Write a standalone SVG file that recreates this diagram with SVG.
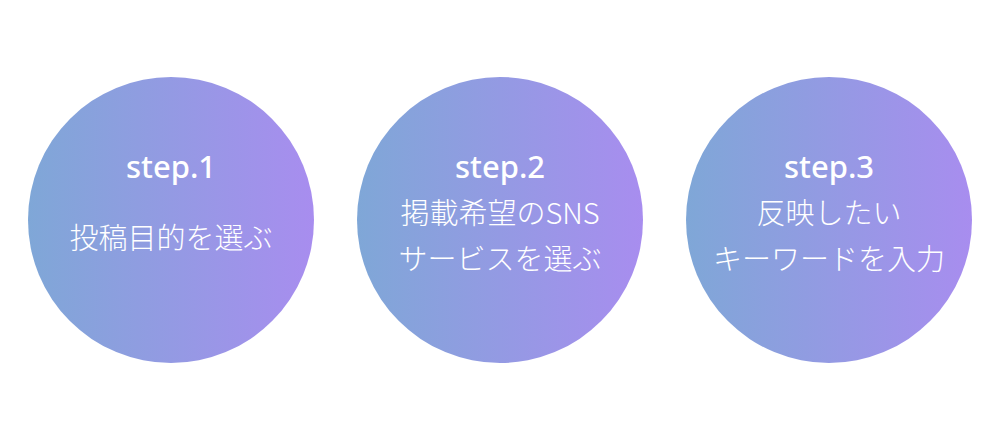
<svg xmlns="http://www.w3.org/2000/svg" width="1000" height="439" viewBox="0 0 1000 439">
<style>
.step{font-family:"Noto Sans","Liberation Sans",sans-serif;font-weight:500;font-size:31px;fill:#fff;text-anchor:middle}
.jp{font-family:"Noto Sans CJK JP","Noto Sans",sans-serif;font-weight:300;font-size:29px;fill:#fff;text-anchor:middle}
</style>
<defs>
<linearGradient id="g" x1="0" y1="0" x2="1" y2="0">
<stop offset="0" stop-color="#7fa7d7"/>
<stop offset="1" stop-color="#a88def"/>
</linearGradient>
</defs>
<rect width="1000" height="439" fill="#fff"/>
<g id="node1">
<circle cx="171" cy="220" r="143" fill="url(#g)"/>
<text class="step" x="171" y="178">step.1</text>
<text class="jp" x="171" y="249">投稿目的を選ぶ</text>
</g>
<g id="node2">
<circle cx="500" cy="220" r="143" fill="url(#g)"/>
<text class="step" x="500" y="178">step.2</text>
<text class="jp" x="500" y="224">掲載希望のSNS</text>
<text class="jp" x="500" y="270">サービスを選ぶ</text>
</g>
<g id="node3">
<circle cx="829" cy="220" r="143" fill="url(#g)"/>
<text class="step" x="829" y="178">step.3</text>
<text class="jp" x="829" y="224">反映したい</text>
<text class="jp" x="829" y="270">キーワードを入力</text>
</g>
<g id="connectors"/>
</svg>
